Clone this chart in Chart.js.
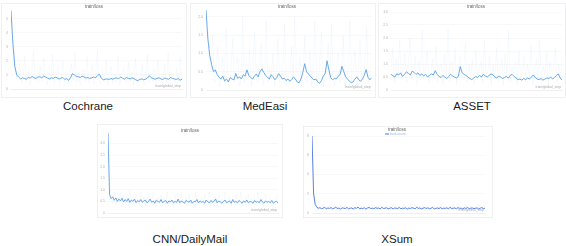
<!DOCTYPE html>
<html>
<head>
<meta charset="utf-8">
<script src="https://cdn.jsdelivr.net/npm/chart.js@4.4.0/dist/chart.umd.min.js"></script>
<style>
body { margin: 0; background: #fff; width: 566px; height: 246px; position: relative; overflow: hidden; font-family: "Liberation Sans", Arial, sans-serif; }
.card { position: absolute; border: 1px solid #eef0f2; box-sizing: border-box; }
canvas { position: absolute; }
.cap { position: absolute; font-size: 11.5px; color: #1a1a1a; transform: translateX(-50%); white-space: nowrap; }
</style>
</head>
<body>
<div class="card" style="left:1px;top:3px;width:186px;height:95px"></div>
<div class="card" style="left:190px;top:3px;width:186px;height:95px"></div>
<div class="card" style="left:378px;top:3px;width:188px;height:95px"></div>
<div class="card" style="left:97px;top:124px;width:186px;height:94px"></div>
<div class="card" style="left:303px;top:126px;width:190px;height:92px"></div>

<canvas id="cochrane" width="188" height="98" style="left:0;top:0"></canvas>
<canvas id="medeasi" width="187" height="98" style="left:190px;top:0"></canvas>
<canvas id="asset" width="189" height="98" style="left:377px;top:0"></canvas>
<canvas id="cnn" width="188" height="96" style="left:96px;top:123px"></canvas>
<canvas id="xsum" width="192" height="96" style="left:300px;top:123px"></canvas>

<div class="cap" style="left:88px;top:100px">Cochrane</div>
<div class="cap" style="left:265px;top:100px">MedEasi</div>
<div class="cap" style="left:472px;top:100px">ASSET</div>
<div class="cap" style="left:190px;top:233px">CNN/DailyMail</div>
<div class="cap" style="left:397px;top:233px">XSum</div>

<script>
// train/loss, smoothed and raw
const cochraneSmooth = [5.6, 3.2, 1.6, 1.0, 0.85, 0.72, 0.8, 0.75, 0.7, 0.82, 0.78, 0.9, 0.8, 0.75, 0.85, 0.88, 0.8, 0.92, 0.86, 0.78, 0.72, 0.8, 0.76, 0.84, 0.8, 0.72, 0.78, 0.82, 0.68, 0.74, 0.62, 0.8, 1.1, 1.0, 0.9, 0.88, 0.82, 0.92, 0.86, 0.78, 0.82, 0.75, 0.8, 0.85, 0.8, 0.95, 1.05, 0.78, 0.66, 0.7, 0.72, 0.68, 0.75, 0.7, 0.76, 0.8, 0.72, 0.86, 0.78, 0.7, 0.82, 0.76, 0.72, 0.8, 0.74, 0.65, 0.6, 0.68, 0.72, 0.66, 0.7, 0.78, 0.95, 0.8, 0.74, 0.7, 0.76, 0.8, 0.72, 0.68, 0.78, 0.74, 0.7, 0.82, 0.76, 0.72, 0.68, 0.75, 0.62, 0.7];
const cochraneRaw = [5.7, 4.2, 2.6, 1.1, 0.6, 1.9, 0.4, 0.9, 2.4, 0.5, 1.3, 0.3, 0.8, 2.7, 0.6, 1.0, 0.4, 1.6, 0.5, 2.2, 0.7, 0.3, 1.2, 0.6, 2.5, 0.4, 0.9, 1.5, 0.3, 0.7, 2.0, 0.5, 1.1, 0.4, 0.8, 1.8, 0.6, 2.6, 0.5, 1.2, 0.3, 0.9, 1.4, 0.5, 2.3, 0.4, 0.7, 1.7, 0.3, 1.0, 2.8, 0.6, 0.4, 1.3, 0.5, 2.1, 0.3, 0.8, 1.6, 0.4, 1.1, 0.5, 2.4, 0.3, 0.9, 1.5, 0.6, 0.4, 1.9, 0.5, 1.2, 0.3, 2.2, 0.7, 0.4, 1.0, 1.7, 0.3, 0.6, 2.5, 0.4, 1.1, 0.5, 1.4, 0.3, 2.0, 0.6, 0.9, 0.4, 1.8, 0.5, 2.6, 0.3, 1.2, 0.7, 0.4, 1.5, 0.5, 2.3, 0.6];

const medeasiSmooth = [2.19, 1.4, 0.95, 0.7, 0.5, 0.55, 0.42, 0.35, 0.3, 0.38, 0.25, 0.3, 0.22, 0.34, 0.3, 0.28, 0.45, 0.32, 0.36, 0.3, 0.42, 0.38, 0.55, 0.4, 0.34, 0.3, 0.38, 0.44, 0.36, 0.5, 0.58, 0.48, 0.4, 0.35, 0.3, 0.42, 0.36, 0.28, 0.34, 0.45, 0.38, 0.3, 0.32, 0.26, 0.3, 0.24, 0.28, 0.36, 0.3, 0.22, 0.2, 0.3, 0.48, 0.72, 0.5, 0.44, 0.38, 0.32, 0.28, 0.3, 0.22, 0.18, 0.26, 0.38, 0.45, 0.8, 0.55, 0.34, 0.28, 0.32, 0.3, 0.38, 0.42, 0.65, 0.5, 0.36, 0.3, 0.24, 0.2, 0.22, 0.3, 0.36, 0.28, 0.24, 0.3, 0.4, 0.56, 0.35, 0.28, 0.34];
const medeasiRaw = [2.2, 1.8, 1.0, 0.6, 1.5, 0.2, 0.5, 1.2, 0.1, 0.4, 0.9, 0.2, 1.7, 0.3, 0.1, 0.6, 1.4, 0.2, 0.5, 0.9, 0.1, 0.3, 2.0, 0.2, 0.6, 0.4, 1.1, 0.1, 0.5, 1.6, 0.3, 0.2, 0.8, 1.3, 0.1, 0.4, 1.9, 0.2, 0.6, 0.3, 1.0, 0.1, 0.5, 1.4, 0.2, 0.3, 0.7, 1.8, 0.1, 0.4, 0.2, 1.2, 0.3, 2.0, 0.5, 0.2, 0.9, 0.1, 0.4, 1.5, 0.2, 0.3, 1.1, 0.1, 0.6, 1.9, 0.3, 0.2, 0.8, 1.6, 0.1, 0.4, 0.5, 1.3, 0.2, 1.8, 0.3, 0.1, 0.7, 1.0, 0.2, 0.4, 1.5, 0.1, 0.3, 0.6, 1.9, 0.2, 0.5, 1.1, 0.1, 0.4, 1.4, 0.2, 0.3, 0.8, 1.7, 0.2, 0.5, 0.9];

const assetSmooth = [0.6, 0.55, 0.5, 0.62, 0.58, 0.66, 0.52, 0.6, 0.7, 0.64, 0.58, 0.72, 0.68, 0.6, 0.66, 0.56, 0.62, 0.54, 0.6, 0.5, 0.56, 0.62, 0.58, 0.74, 0.6, 0.52, 0.48, 0.56, 0.5, 0.44, 0.52, 0.6, 0.54, 0.5, 0.46, 0.52, 0.9, 0.66, 0.6, 0.56, 0.5, 0.44, 0.4, 0.46, 0.52, 0.48, 0.56, 0.5, 0.6, 0.54, 0.5, 0.56, 0.62, 0.58, 0.5, 0.46, 0.54, 0.5, 0.44, 0.48, 0.52, 0.46, 0.56, 0.6, 0.52, 0.46, 0.4, 0.42, 0.38, 0.44, 0.4, 0.46, 0.42, 0.5, 0.58, 0.48, 0.42, 0.4, 0.44, 0.38, 0.42, 0.46, 0.44, 0.5, 0.42, 0.48, 0.56, 0.62, 0.46, 0.38];
const assetRaw = [0.9, 1.6, 0.3, 1.2, 0.5, 1.9, 0.4, 0.8, 1.4, 0.3, 1.0, 2.0, 0.4, 0.7, 1.3, 0.2, 1.1, 0.5, 2.3, 0.4, 0.9, 1.5, 0.3, 0.6, 1.2, 0.4, 1.7, 0.3, 0.8, 1.0, 0.2, 1.4, 0.5, 2.35, 0.3, 1.1, 0.6, 1.6, 0.2, 0.9, 1.3, 0.4, 0.7, 1.8, 0.3, 1.0, 0.5, 1.2, 0.2, 1.5, 0.4, 0.8, 1.1, 0.3, 1.9, 0.5, 0.7, 1.3, 0.2, 1.0, 0.4, 1.6, 0.3, 0.8, 1.2, 0.2, 1.4, 0.5, 2.3, 0.3, 0.9, 0.6, 1.1, 0.2, 1.5, 0.4, 0.8, 1.3, 0.3, 1.0, 0.5, 1.7, 0.2, 0.7, 1.2, 0.4, 1.9, 0.3, 0.9, 0.6, 1.4, 0.2, 1.1, 0.5, 0.8, 1.6, 0.3, 1.0, 0.4, 1.2];

const cnnSmooth = [3.45, 0.8, 0.62, 0.7, 0.55, 0.65, 0.5, 0.6, 0.52, 0.64, 0.48, 0.58, 0.5, 0.62, 0.46, 0.56, 0.5, 0.6, 0.44, 0.54, 0.48, 0.58, 0.46, 0.52, 0.56, 0.44, 0.5, 0.6, 0.46, 0.52, 0.42, 0.56, 0.5, 0.46, 0.58, 0.44, 0.5, 0.54, 0.42, 0.52, 0.48, 0.56, 0.44, 0.5, 0.46, 0.6, 0.44, 0.52, 0.48, 0.42, 0.54, 0.5, 0.46, 0.56, 0.42, 0.5, 0.48, 0.58, 0.44, 0.52, 0.46, 0.5, 0.42, 0.56, 0.48, 0.44, 0.54, 0.46, 0.5, 0.6, 0.44, 0.52, 0.48, 0.42, 0.5, 0.56, 0.44, 0.48, 0.52, 0.42, 0.58, 0.46, 0.5, 0.44, 0.54, 0.48, 0.42, 0.52, 0.46, 0.56, 0.44, 0.5, 0.48, 0.42, 0.54, 0.46, 0.5, 0.44, 0.58, 0.48, 0.42, 0.52, 0.46, 0.5, 0.44, 0.54, 0.42, 0.48, 0.5, 0.44];
const cnnRaw = [3.5, 1.2, 0.8, 0.4, 0.9, 0.3, 0.7, 0.5, 0.9, 0.3, 0.8, 0.4, 0.7, 0.3, 1.0, 0.4, 0.6, 0.3, 0.8, 0.5, 0.3, 0.9, 0.4, 0.7, 0.3, 0.6, 0.8, 0.3, 0.5, 0.9, 0.4, 0.3, 0.7, 0.5, 0.8, 0.3, 0.6, 0.4, 0.9, 0.3, 0.7, 0.5, 0.3, 0.8, 0.4, 0.6, 0.3, 0.9, 0.5, 0.4, 0.7, 0.3, 0.8, 0.4, 0.5, 0.3, 0.9, 0.4, 0.6, 0.3, 0.7, 0.5, 0.8, 0.3, 0.4, 0.9, 0.3, 0.6, 0.5, 0.7, 0.3, 0.8, 0.4, 0.6, 0.3, 0.9, 0.4, 0.5, 0.7, 0.3, 0.6, 0.4, 0.8, 0.3, 0.5, 0.9, 0.4, 0.3, 0.7, 0.5, 0.8, 0.3, 0.6, 0.4, 0.7, 0.3, 0.9, 0.5, 0.4, 0.6, 0.3, 0.8, 0.4, 0.5, 0.7, 0.3, 0.6, 0.4, 0.8, 0.3];

const xsumSmooth = [8.0, 2.0, 0.9, 0.6, 0.5, 0.55, 0.45, 0.5, 0.6, 0.42, 0.52, 0.48, 0.56, 0.44, 0.5, 0.6, 0.46, 0.52, 0.4, 0.54, 0.5, 0.46, 0.58, 0.44, 0.5, 0.52, 0.42, 0.56, 0.48, 0.62, 0.44, 0.5, 0.46, 0.54, 0.4, 0.52, 0.58, 0.46, 0.5, 0.44, 0.56, 0.48, 0.52, 0.42, 0.6, 0.46, 0.5, 0.54, 0.44, 0.48, 0.56, 0.42, 0.52, 0.5, 0.46, 0.58, 0.44, 0.5, 0.48, 0.54, 0.4, 0.52, 0.46, 0.56, 0.5, 0.44, 0.6, 0.48, 0.52, 0.42, 0.5, 0.56, 0.46, 0.54, 0.44, 0.5, 0.58, 0.42, 0.48, 0.52, 0.46, 0.56, 0.44, 0.5, 0.48, 0.54, 0.42, 0.6, 0.46, 0.5, 0.52, 0.44, 0.56, 0.48, 0.5, 0.42, 0.54, 0.46, 0.58, 0.44, 0.5, 0.52, 0.46, 0.48, 0.54, 0.42, 0.5, 0.56, 0.46, 0.5];
const xsumRaw = [8.0, 3.0, 1.1, 0.7, 0.3, 0.8, 0.4, 0.9, 0.3, 0.7, 0.5, 0.8, 0.3, 0.6, 0.9, 0.4, 0.7, 0.3, 0.8, 0.5, 0.4, 0.9, 0.3, 0.6, 0.7, 0.4, 0.8, 0.3, 0.9, 0.5, 0.3, 0.7, 0.4, 0.8, 0.3, 0.6, 0.9, 0.4, 0.5, 0.8, 0.3, 0.7, 0.4, 0.9, 0.3, 0.6, 0.5, 0.8, 0.3, 0.7, 0.4, 0.9, 0.5, 0.3, 0.8, 0.4, 0.6, 0.3, 0.9, 0.5, 0.7, 0.3, 0.8, 0.4, 0.6, 0.9, 0.3, 0.5, 0.7, 0.4, 0.8, 0.3, 0.6, 0.9, 0.4, 0.5, 0.3, 0.8, 0.4, 0.7, 0.3, 0.9, 0.5, 0.6, 0.3, 0.8, 0.4, 0.7, 0.3, 0.9, 0.4, 0.6, 0.5, 0.8, 0.3, 0.7, 0.4, 0.9, 0.3, 0.6, 0.8, 0.4, 0.5, 0.7, 0.3, 0.9, 0.4, 0.6, 0.3, 0.8];

const kFmt = v => v === 0 ? '' : (v >= 1000 ? (v / 1000) + 'k' : String(v));

// chart area is pinned per panel so plots line up with the reference
function makeChart(id, cfg) {
    const canvas = document.getElementById(id);
    const W = canvas.width, H = canvas.height;
    const yw = 10, xh = 6;
    const a = cfg.area;
    const pts = arr => arr.map((v, i) => ({ x: i * cfg.xMax / (arr.length - 1), y: v }));

    const labels = {
        id: 'labels',
        afterDraw(chart) {
            const ctx = chart.ctx;
            const ca = chart.chartArea;
            ctx.save();
            ctx.fillStyle = '#666';
            ctx.font = '4.5px "Liberation Sans", Arial';
            ctx.textAlign = 'center';
            ctx.textBaseline = 'middle';
            ctx.fillText('train/loss', cfg.titleX, cfg.titleY);
            if (cfg.legend) {
                ctx.strokeStyle = cfg.color;
                ctx.lineWidth = 1;
                ctx.beginPath();
                ctx.moveTo(cfg.titleX - 12, cfg.titleY + 4);
                ctx.lineTo(cfg.titleX - 8, cfg.titleY + 4);
                ctx.stroke();
                ctx.fillStyle = '#9bbbe8';
                ctx.font = '3.5px "Liberation Sans", Arial';
                ctx.textAlign = 'left';
                ctx.fillText(cfg.legend, cfg.titleX - 7, cfg.titleY + 4);
            }
            ctx.fillStyle = '#aaa';
            ctx.font = '3.5px "Liberation Sans", Arial';
            ctx.textAlign = 'right';
            ctx.textBaseline = 'bottom';
            ctx.fillText('train/global_step', ca.right - 1, ca.bottom - 1);
            ctx.restore();
        }
    };

    return new Chart(canvas, {
        type: 'line',
        data: {
            datasets: [
                {
                    data: pts(cfg.raw),
                    borderColor: cfg.faint,
                    borderWidth: 0.7,
                    pointRadius: 0,
                    tension: 0,
                },
                {
                    data: pts(cfg.smooth),
                    borderColor: cfg.color,
                    borderWidth: 0.9,
                    pointRadius: 0,
                    tension: 0,
                },
            ],
        },
        options: {
            responsive: false,
            animation: false,
            events: [],
            layout: {
                padding: { left: a.l - yw, right: W - a.r, top: a.t, bottom: H - a.b - xh },
            },
            plugins: { legend: { display: false }, tooltip: { enabled: false }, title: { display: false } },
            scales: {
                x: {
                    type: 'linear',
                    min: 0,
                    max: cfg.xMax,
                    afterFit(s) { s.height = xh; },
                    grid: { display: false },
                    border: { color: '#e6e6e6', width: 0.5 },
                    ticks: {
                        stepSize: cfg.xStep,
                        includeBounds: false,
                        autoSkip: false,
                        maxRotation: 0,
                        padding: 1,
                        color: '#b5b5b5',
                        font: { size: 3.5 },
                        callback: kFmt,
                    },
                },
                y: {
                    min: 0,
                    max: cfg.yMax,
                    afterFit(s) { s.width = yw; },
                    grid: { color: '#f3f3f3', lineWidth: 0.6, drawTicks: false },
                    border: { display: false },
                    ticks: {
                        stepSize: cfg.yStep,
                        includeBounds: false,
                        padding: 3,
                        color: '#b5b5b5',
                        font: { size: 3.5 },
                    },
                },
            },
        },
        plugins: [labels],
    });
}

const blue = 'rgb(92,160,228)';
const blueFaint = 'rgba(92,160,228,0.08)';

makeChart('cochrane', {
    area: { l: 11, r: 182, t: 10, b: 89 }, titleX: 94, titleY: 7,
    xMax: 3640, xStep: 1000, yMax: 5.64, yStep: 1,
    smooth: cochraneSmooth, raw: cochraneRaw, color: blue, faint: blueFaint,
});
makeChart('medeasi', {
    area: { l: 16, r: 185, t: 10, b: 90 }, titleX: 97, titleY: 7,
    xMax: 1370, xStep: 200, yMax: 2.19, yStep: 0.5,
    smooth: medeasiSmooth, raw: medeasiRaw, color: blue, faint: blueFaint,
});
makeChart('asset', {
    area: { l: 14, r: 186, t: 12, b: 90 }, titleX: 99, titleY: 7,
    xMax: 20000, xStep: 5000, yMax: 3, yStep: 0.5,
    smooth: assetSmooth, raw: assetRaw, color: blue, faint: blueFaint,
});
makeChart('cnn', {
    area: { l: 12, r: 182, t: 10, b: 90 }, titleX: 94, titleY: 8,
    xMax: 45000, xStep: 10000, yMax: 3.45, yStep: 0.5,
    smooth: cnnSmooth, raw: cnnRaw, color: blue, faint: blueFaint,
});
makeChart('xsum', {
    area: { l: 12, r: 185, t: 13, b: 90 }, titleX: 97, titleY: 7,
    xMax: 3200, xStep: 500, yMax: 8, yStep: 2,
    smooth: xsumSmooth, raw: xsumRaw, color: 'rgb(72,118,226)', faint: 'rgba(72,118,226,0.08)',
    legend: 'bart-xsum',
});
</script>
</body>
</html>
